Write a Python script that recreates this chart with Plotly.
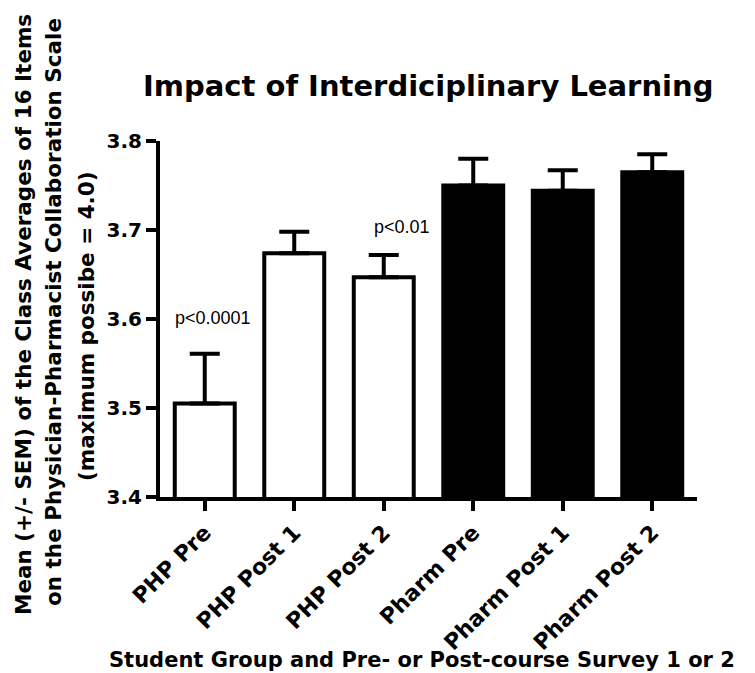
import plotly.graph_objects as go

# ---- data ----
categories = ["PHP Pre", "PHP Post 1", "PHP Post 2", "Pharm Pre", "Pharm Post 1", "Pharm Post 2"]
means = [3.505, 3.674, 3.647, 3.750, 3.744, 3.765]
sem = [0.056, 0.024, 0.025, 0.030, 0.023, 0.020]
bar_colors = ["white", "white", "white", "black", "black", "black"]
y_ticks = [3.4, 3.5, 3.6, 3.7, 3.8]
p_labels = ["p<0.0001", "p<0.01"]
p_label_x = [0.09, 2.2]
p_label_y = [3.601, 3.703]

title_text = "Impact of Interdiciplinary Learning"
x_title = "Student Group and Pre- or Post-course Survey 1 or 2"
y_title_lines = [
    "Mean (+/- SEM) of the Class Averages of 16 Items",
    "on the Physician-Pharmacist Collaboration Scale",
    "(maximum possibe = 4.0)",
]

# ---- layout geometry (pixels) ----
W, H = 755, 673
L, R, T, B = 152, 66, 133, 184
PW, PH = W - L - R, H - T - B

def px(xp):
    return (xp - L) / PW

def py(yp):
    return (H - B - yp) / PH

BOLD = dict(family="DejaVu Sans", color="black", weight="bold")

fig = go.Figure()
fig.add_trace(go.Bar(
    x=list(range(len(categories))),
    y=means,
    width=0.67,
    marker=dict(color=bar_colors, line=dict(color="black", width=4)),
    error_y=dict(type="data", array=sem, arrayminus=[0] * len(sem), symmetric=False,
                 color="black", thickness=4, width=15),
    showlegend=False,
))

annotations = []
for txt, xx, yy in zip(p_labels, p_label_x, p_label_y):
    annotations.append(dict(x=xx, y=yy, xref="x", yref="y", text=txt, showarrow=False,
                            font=dict(family="Liberation Sans", size=18, color="black"),
                            xanchor="center", yanchor="middle"))

annotations.append(dict(x=px(420), y=py(78), xref="paper", yref="paper", text=title_text,
                        showarrow=False, xanchor="center", yanchor="middle",
                        font=dict(size=29, **BOLD)))
annotations.append(dict(x=px(414), y=py(652), xref="paper", yref="paper", text=x_title,
                        showarrow=False, xanchor="center", yanchor="middle",
                        font=dict(size=21, **BOLD)))
for line, xc, yc in zip(y_title_lines, [15, 45, 78], [307, 304, 318]):
    annotations.append(dict(x=px(xc), y=py(yc), xref="paper", yref="paper", text=line,
                            showarrow=False, textangle=-90, xanchor="center", yanchor="middle",
                            font=dict(size=21.5, **BOLD)))

fig.update_layout(
    width=W, height=H,
    margin=dict(l=L, r=R, t=T, b=B, pad=0),
    paper_bgcolor="white", plot_bgcolor="white",
    annotations=annotations,
    bargap=0.33,
)
fig.update_xaxes(
    range=[-0.5, 5.5],
    tickmode="array", tickvals=list(range(len(categories))), ticktext=categories,
    tickangle=-45, tickfont=dict(size=22, **BOLD),
    showline=True, linecolor="black", linewidth=4,
    ticks="outside", ticklen=10, tickwidth=3.5, tickcolor="black",
    showgrid=False, zeroline=False,
)
fig.update_yaxes(
    range=[3.4, 3.8],
    tickmode="array", tickvals=y_ticks, ticktext=[f"{v:.1f}" for v in y_ticks],
    tickfont=dict(size=20, **BOLD),
    showline=True, linecolor="black", linewidth=4,
    ticks="outside", ticklen=10, tickwidth=3.5, tickcolor="black",
    showgrid=False, zeroline=False,
)

fig.write_html("out.html")
